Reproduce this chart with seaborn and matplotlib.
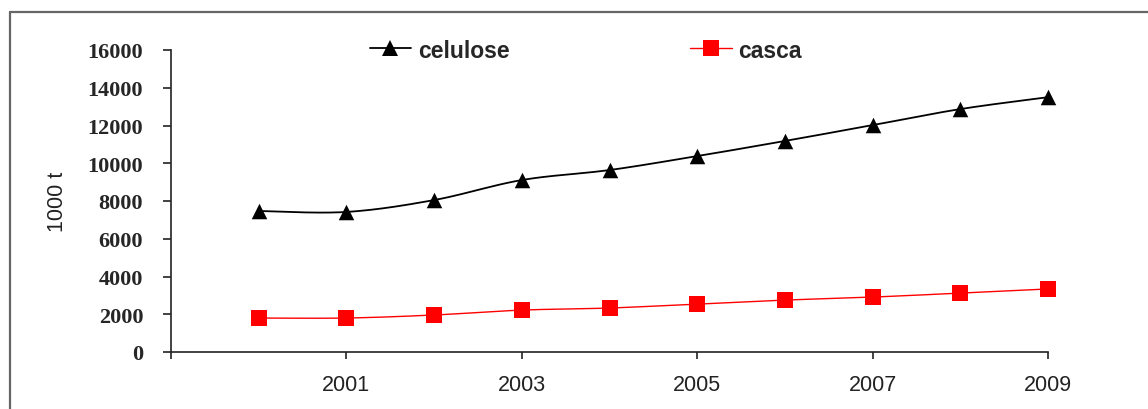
import numpy as np
import pandas as pd
import matplotlib
matplotlib.use("Agg")
import matplotlib.pyplot as plt
from matplotlib.lines import Line2D
import seaborn as sns

# dados (1000 t)
anos = [2000, 2001, 2002, 2003, 2004, 2005, 2006, 2007, 2008, 2009]
celulose = [7470, 7420, 8050, 9110, 9640, 10380, 11180, 12020, 12870, 13500]
casca = [1800, 1800, 1960, 2220, 2330, 2540, 2750, 2910, 3120, 3340]
yticks = [0, 2000, 4000, 6000, 8000, 10000, 12000, 14000, 16000]
xticks = [1999, 2001, 2003, 2005, 2007, 2009]
xlabels = ["", "2001", "2003", "2005", "2007", "2009"]


def suavizar(x, y, n=30):
    # curva suavizada tipo Excel (Catmull-Rom) so para o desenho da linha
    x = np.asarray(x, float)
    y = np.asarray(y, float)
    px = np.concatenate([[x[0]], x, [x[-1]]])
    py = np.concatenate([[y[0]], y, [y[-1]]])
    xs, ys = [], []
    t = np.linspace(0, 1, n)
    for i in range(1, len(px) - 2):
        p0, p1, p2, p3 = [np.array([px[j], py[j]]) for j in (i - 1, i, i + 1, i + 2)]
        c1 = p1 + (p2 - p0) / 6
        c2 = p2 - (p3 - p1) / 6
        for tt in t:
            b = ((1 - tt) ** 3) * p1 + 3 * ((1 - tt) ** 2) * tt * c1 + 3 * (1 - tt) * tt ** 2 * c2 + tt ** 3 * p2
            xs.append(b[0])
            ys.append(b[1])
    return np.array(xs), np.array(ys)


sns.set_style("white")
plt.rcParams['font.family'] = ['Liberation Sans', 'DejaVu Sans']

fig = plt.figure(figsize=(11.48, 4.10), dpi=100)
ax = fig.add_axes([171 / 1148, 1 - 353 / 410, (1048 - 171) / 1148, (353 - 51) / 410])

series = [("celulose", celulose, "black", "^", 1.3), ("casca", casca, "#ff0000", "s", 1.0)]
handles = []
for nome, vals, cor, mk, lw in series:
    sx, sy = suavizar(anos, vals)
    curva = pd.DataFrame({"ano": sx, "valor": sy})
    sns.lineplot(data=curva, x="ano", y="valor", ax=ax, color=cor, linewidth=lw,
                 sort=False, estimator=None, clip_on=False)
    pts = pd.DataFrame({"ano": anos, "valor": vals})
    sns.scatterplot(data=pts, x="ano", y="valor", ax=ax, color=cor, marker=mk,
                    s=125, edgecolor=cor, linewidth=0, clip_on=False, zorder=3)
    handles.append(Line2D([], [], color=cor, lw=lw, marker=mk, markersize=11,
                          markeredgewidth=0, label=nome))

ax.set_xlim(1999, 2009)
ax.set_ylim(0, 16000)
ax.set_yticks(yticks)
ax.set_yticklabels([str(v) for v in yticks], family="Liberation Serif",
                   fontweight="bold", fontsize=16)
ax.set_xticks(xticks)
ax.set_xticklabels(xlabels, fontsize=15.5, color="#222222")
ax.set_xlabel("")
ax.set_ylabel("1000 t", fontsize=15.5, color="#222222")
ax.yaxis.set_label_coords(-0.118, 0.5)

for s in ("top", "right"):
    ax.spines[s].set_visible(False)
for s in ("left", "bottom"):
    ax.spines[s].set_color("#222222")
    ax.spines[s].set_linewidth(1.2)
ax.tick_params(axis="y", direction="out", length=6, width=1.2, color="#222222", pad=14, left=True)
ax.tick_params(axis="x", direction="out", length=5, width=1.2, color="#222222", pad=11, bottom=True)

leg = ax.legend(handles=handles, loc="center", bbox_to_anchor=(0.473, 1.0), ncol=2,
                frameon=False, handlelength=1.8, handletextpad=0.3, columnspacing=7.9,
                prop={"family": "Liberation Sans", "weight": "bold", "size": 16.5})

# moldura externa (so borda esquerda e superior visiveis)
fig.add_artist(Line2D([10 / 1148, 10 / 1148], [0, 1 - 13 / 410], color="#666666", lw=1.6))
fig.add_artist(Line2D([10 / 1148, 1], [1 - 13 / 410, 1 - 13 / 410], color="#666666", lw=1.6))

fig.savefig("out.png", dpi=100)
